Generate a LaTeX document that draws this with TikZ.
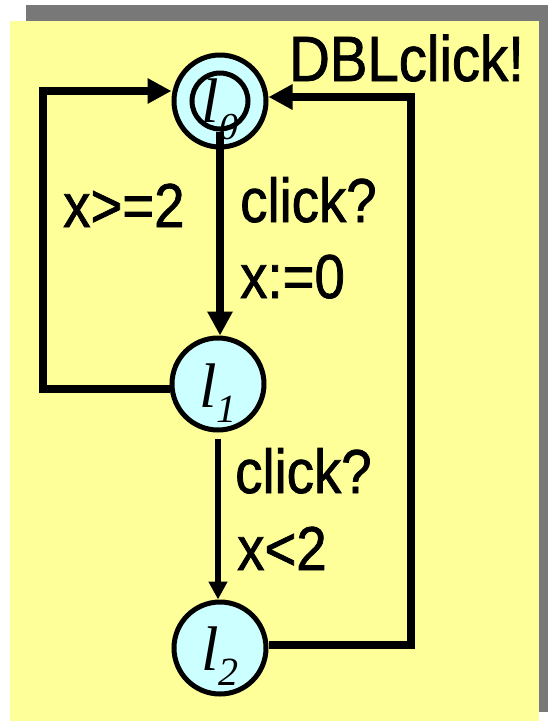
\documentclass[tikz,border=0pt]{standalone}
\usepackage{fontspec}
\newfontfamily\arn[FakeStretch=0.88,FakeBold=1.2]{Liberation Sans}
\newfontfamily\tnr{Liberation Serif}
\usetikzlibrary{arrows.meta}
\definecolor{bgyellow}{HTML}{FFFF99}
\definecolor{shadowgray}{HTML}{787878}
\definecolor{loccyan}{HTML}{CCFFFF}
\begin{document}
\begin{tikzpicture}[x=1pt,y=-1pt,
  loc/.style={circle,draw,line width=5pt,fill=loccyan,minimum size=92pt,inner sep=0pt},
  innerring/.style={circle,draw,line width=5pt,minimum size=56pt,inner sep=0pt},
  loclab/.style={anchor=base,inner sep=0pt,font=\tnr\itshape},
  bigedge/.style={line width=7.5pt,-{Triangle[length=24pt,width=24pt]}},
  thinedge/.style={line width=5.5pt,-{Triangle[length=18pt,width=18pt]}},
  lbl/.style={anchor=base west,inner sep=0pt,font=\arn\fontsize{62}{62}\selectfont}]
\useasboundingbox (0,0) rectangle (548,721);
\fill[shadowgray] (26,5) rectangle (548,712);
\fill[bgyellow] (10,21) rectangle (539,721);
% locations
\node[loc] (l0) at (220,101) {};
\node[innerring] (l0in) at (l0) {};
\node[loc] (l1) at (218,384) {};
\node[loc] (l2) at (220,648) {};
\node[loclab] (t0) at ([yshift=-21pt]l0.center) {\fontsize{63}{63}\selectfont l\raisebox{-17pt}{\fontsize{38}{38}\selectfont 0}};
\node[loclab] (t1) at ([yshift=-23pt]l1.center) {\fontsize{63}{63}\selectfont l\raisebox{-15pt}{\fontsize{40}{40}\selectfont 1}};
\node[loclab] (t2) at ([yshift=-22pt]l2.center) {\fontsize{63}{63}\selectfont l\raisebox{-15pt}{\fontsize{40}{40}\selectfont 2}};
% edges
\draw[bigedge] (l0in.south) -- (l0in.south |- l1.north);
\draw[thinedge] ([yshift=-6pt]l1.south) -- (l1.south |- l2.north);
\coordinate (lb) at (43,389);
\coordinate (lt) at (43,91);
\draw[bigedge] ([yshift=-5pt]l1.west) -- (lb) -- (lt) -- (l0.west |- lt);
\coordinate (rb) at (411,645);
\coordinate (rt) at (411,97);
\draw[bigedge] ([yshift=3pt]l2.east) -- (rb) -- (rt) -- (l0.east |- rt);
% labels
\node[lbl,font=\arn\fontsize{64}{64}\selectfont] (dbl) at (289,81) {DBLclick!};
\node[lbl] (g1) at (63,227) {x>=2};
\node[lbl] (s1) at (240,222) {click?};
\node[lbl] (a1) at (240,298) {x:=0};
\node[lbl] (s2) at (235,493) {click?};
\node[lbl] (g2) at (237,570) {x<2};
\end{tikzpicture}
\end{document}
